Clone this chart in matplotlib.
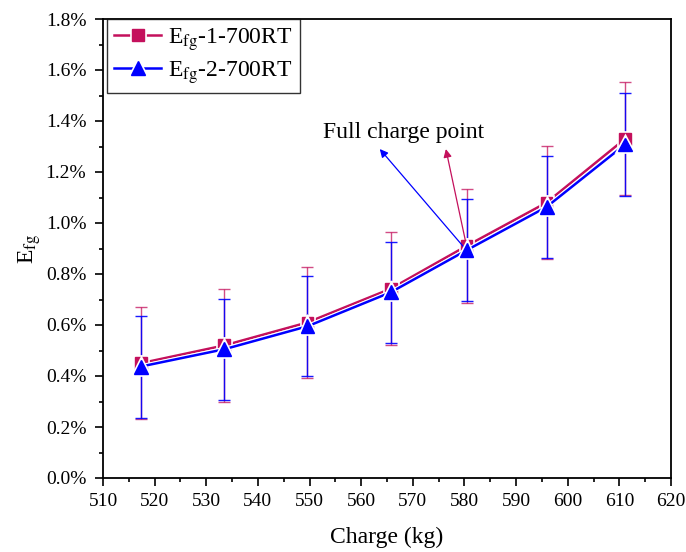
import numpy as np
import matplotlib
matplotlib.use("Agg")
import matplotlib.pyplot as plt
import matplotlib.patheffects as pe
from matplotlib.ticker import MultipleLocator, FuncFormatter

charge = [517.3, 533.5, 549.6, 565.7, 580.4, 595.9, 611.1]
efg1 = [0.450, 0.520, 0.610, 0.742, 0.910, 1.080, 1.330]
err1 = [0.220, 0.222, 0.216, 0.222, 0.222, 0.222, 0.222]
efg2 = [0.437, 0.505, 0.595, 0.728, 0.893, 1.063, 1.308]
err2 = [0.200, 0.198, 0.196, 0.198, 0.200, 0.200, 0.201]

RED = "#C4105C"
BLUE = "#0000FF"

plt.rcParams["font.family"] = ["Liberation Serif", "DejaVu Serif"]
plt.rcParams["mathtext.fontset"] = "stix"

fig = plt.figure(figsize=(6.86, 5.52), dpi=100)
# axes box: x 103..671 px, y 19..478 px
ax = fig.add_axes([103 / 686, 1 - 478 / 552, 568 / 686, 459 / 552])

halo = [pe.Stroke(linewidth=3.4, foreground="white"), pe.Normal()]
ax.errorbar(charge, efg1, yerr=err1, fmt="none", ecolor=RED, elinewidth=1.0,
            capsize=4.5, capthick=1.0, alpha=0.75, zorder=2)
ax.errorbar(charge, efg2, yerr=err2, fmt="none", ecolor=BLUE, elinewidth=1.0,
            capsize=4.5, capthick=1.0, alpha=0.9, zorder=2)
ax.plot(charge, efg1, color=RED, lw=1.8, marker="s", ms=8.5, mec=RED, mfc=RED,
        label=r"E$_{\mathrm{fg}}$-1-700RT", zorder=3, path_effects=halo)
ax.plot(charge, efg2, color=BLUE, lw=1.8, marker="^", ms=10, mec=BLUE, mfc=BLUE,
        label=r"E$_{\mathrm{fg}}$-2-700RT", zorder=4, path_effects=halo)

# annotation arrows from the full-charge point
ax.text(568.3, 1.353, "Full charge point", fontsize=17, ha="center", va="center")
ax.annotate("", xy=(563.6, 1.29), xytext=(charge[4], efg2[4]),
            arrowprops=dict(arrowstyle="-|>", color=BLUE, lw=0.9, mutation_scale=12,
                            shrinkA=0, shrinkB=0))
ax.annotate("", xy=(576.4, 1.29), xytext=(charge[4], efg1[4]),
            arrowprops=dict(arrowstyle="-|>", color=RED, lw=0.9, mutation_scale=12,
                            shrinkA=0, shrinkB=0))

ax.set_xlim(510, 620)
ax.set_ylim(0, 1.8)
ax.xaxis.set_major_locator(MultipleLocator(10))
ax.xaxis.set_minor_locator(MultipleLocator(5))
ax.yaxis.set_major_locator(MultipleLocator(0.2))
ax.yaxis.set_minor_locator(MultipleLocator(0.1))
ax.yaxis.set_major_formatter(FuncFormatter(lambda v, p: f"{v:.1f}%"))
ax.tick_params(which="both", direction="out", top=False, right=False,
               labelsize=14, width=1.2)
ax.tick_params(which="major", length=6)
ax.tick_params(which="minor", length=3)
ax.tick_params(axis="y", which="major", pad=6)
ax.tick_params(axis="x", which="major", pad=5)
for s in ax.spines.values():
    s.set_linewidth(1.3)

ax.set_xlabel("Charge (kg)", fontsize=17, labelpad=12)
ax.set_ylabel(r"E$_{\mathrm{fg}}$", fontsize=17, labelpad=2)

leg = ax.legend(loc="upper left", bbox_to_anchor=(0.007, 1.0), fontsize=17,
                frameon=True, fancybox=False, edgecolor="black", borderaxespad=0,
                handlelength=2.0, borderpad=0.3, labelspacing=0.25,
                handletextpad=0.3)
leg.get_frame().set_linewidth(1.0)

fig.savefig("out.png", dpi=100)
